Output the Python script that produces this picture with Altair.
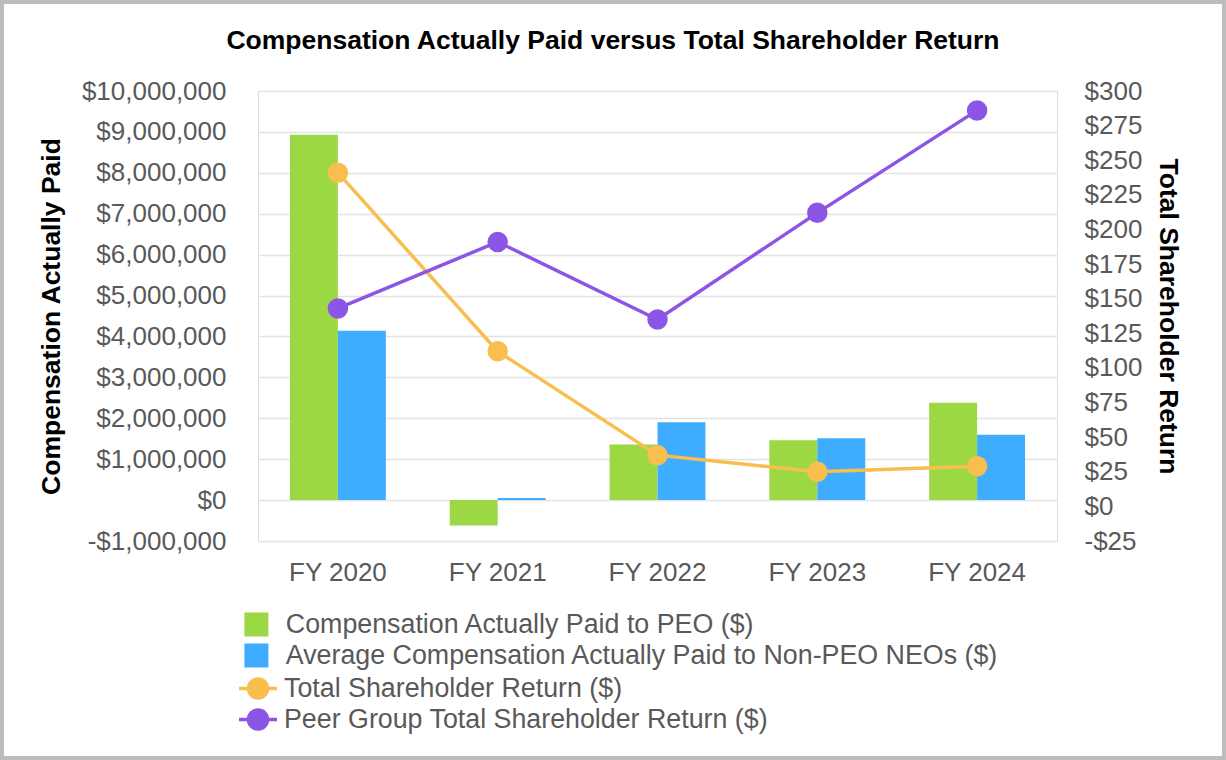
import altair as alt
import pandas as pd

# Fiscal years shown on the x axis
years = ["FY 2020", "FY 2021", "FY 2022", "FY 2023", "FY 2024"]

# Compensation actually paid (left axis, dollars)
peo_cap = [8930000, -620000, 1360000, 1460000, 2380000]
neo_cap = [4140000, 50000, 1900000, 1510000, 1600000]

# Value of a $100 investment (right axis, dollars)
tsr = [241, 112, 37, 25, 29]
peer_tsr = [143, 191, 135, 212, 286]

bar_names = [
    "Compensation Actually Paid to PEO ($)",
    "Average Compensation Actually Paid to Non-PEO NEOs ($)",
]
line_names = [
    "Total Shareholder Return ($)",
    "Peer Group Total Shareholder Return ($)",
]
bar_colors = ["#9CD843", "#3FADFF"]
line_colors = ["#F8BE4E", "#8B55E6"]

bars_df = pd.DataFrame(
    {
        "year": years * 2,
        "series": [bar_names[0]] * len(years) + [bar_names[1]] * len(years),
        "value": peo_cap + neo_cap,
    }
)
lines_df = pd.DataFrame(
    {
        "year": years * 2,
        "series": [line_names[0]] * len(years) + [line_names[1]] * len(years),
        "value": tsr + peer_tsr,
    }
)

FONT = "Liberation Sans"
GREY = "#595959"
LABEL_SIZE = 26
LEGEND_SIZE = 26.8
TITLE_SIZE = 26.5

x_enc = alt.X(
    "year:N",
    sort=years,
    scale=alt.Scale(paddingInner=0.4, paddingOuter=0.2),
    axis=alt.Axis(
        title=None,
        labelAngle=0,
        ticks=False,
        domain=False,
        labelPadding=18,
        labelFontSize=LABEL_SIZE,
        labelColor=GREY,
        labelFont=FONT,
    ),
)

dollar_expr = "datum.value < 0 ? '-$' + format(-datum.value, ',') : '$' + format(datum.value, ',')"

left_vals = [v * 1000000 for v in range(-1, 11)]
bars = (
    alt.Chart(bars_df)
    .mark_bar()
    .encode(
        x=x_enc,
        xOffset=alt.XOffset("series:N", sort=bar_names, scale=alt.Scale(paddingInner=0, paddingOuter=0)),
        y=alt.Y(
            "value:Q",
            scale=alt.Scale(domain=[-1000000, 10000000], nice=False),
            axis=alt.Axis(
                title="Compensation Actually Paid",
                values=left_vals,
                labelExpr=dollar_expr,
                ticks=False,
                domain=False,
                labelPadding=32,
                labelFontSize=LABEL_SIZE,
                labelColor=GREY,
                labelFont=FONT,
                titleFont=FONT,
                titleFontSize=TITLE_SIZE,
                titleFontWeight="bold",
                titleColor="#000000",
                titlePadding=16,
                grid=True,
                gridColor="#E3E3E3",
                gridWidth=1.5,
            ),
        ),
        fill=alt.Fill(
            "series:N",
            sort=bar_names,
            scale=alt.Scale(domain=bar_names, range=bar_colors),
            legend=alt.Legend(
                title=None,
                orient="none",
                legendX=-15,
                legendY=518,
                symbolType="square",
                symbolSize=576,
                symbolStrokeWidth=0,
                labelOffset=16,
                clipHeight=31,
                rowPadding=0,
                padding=0,
                labelFontSize=LEGEND_SIZE,
                labelColor=GREY,
                labelFont=FONT,
                labelLimit=900,
            ),
        ),
    )
)

right_vals = list(range(-25, 301, 25))
y_right = alt.Y(
    "value:Q",
    scale=alt.Scale(domain=[-25, 300], nice=False),
    axis=alt.Axis(
        title="Total Shareholder Return",
        orient="right",
        values=right_vals,
        labelExpr=dollar_expr,
        ticks=False,
        domain=False,
        grid=False,
        labelPadding=27,
        labelFontSize=LABEL_SIZE,
        labelColor=GREY,
        labelFont=FONT,
        titleFont=FONT,
        titleFontSize=TITLE_SIZE,
        titleFontWeight="bold",
        titleColor="#000000",
        titlePadding=12,
    ),
)

line_symbol = (
    "M-1,0L1,0"
    "M-0.5,0A0.5,0.5 0 1,0 0.5,0A0.5,0.5 0 1,0 -0.5,0Z"
)
color_enc = alt.Color(
    "series:N",
    sort=line_names,
    scale=alt.Scale(domain=line_names, range=line_colors),
    legend=alt.Legend(
        title=None,
        orient="none",
        legendX=-21,
        legendY=582,
        symbolType=line_symbol,
        symbolSize=1444,
        symbolStrokeWidth=3.5,
        symbolOpacity=1,
        labelOffset=5,
        clipHeight=31,
        rowPadding=0,
        padding=0,
        labelFontSize=LEGEND_SIZE,
        labelColor=GREY,
        labelFont=FONT,
        labelLimit=900,
    ),
)

lines = (
    alt.Chart(lines_df)
    .mark_line(strokeWidth=3.5)
    .encode(x=x_enc, y=y_right, color=color_enc)
)
points = (
    alt.Chart(lines_df)
    .mark_circle(size=420, opacity=1)
    .encode(x=x_enc, y=y_right, color=color_enc)
)

# Grey frame around the whole figure
frame = (
    alt.Chart(pd.DataFrame({"k": [0]}))
    .mark_rect(fill=None, stroke="#BDBDBD", strokeWidth=4)
    .encode(
        x=alt.value(-256),
        x2=alt.value(966),
        y=alt.value(-89),
        y2=alt.value(667),
    )
)

chart = (
    alt.layer(bars, alt.layer(lines, points), frame)
    .resolve_scale(y="independent")
    .properties(
        width=799,
        height=450,
        title=alt.TitleParams(
            "Compensation Actually Paid versus Total Shareholder Return",
            font=FONT,
            fontSize=TITLE_SIZE,
            fontWeight="bold",
            color="#000000",
            anchor="middle",
            frame="bounds",
            offset=-54,
        ),
        autosize=alt.AutoSizeParams(type="none"),
        padding={"left": 258, "top": 91, "right": 169, "bottom": 219},
    )
    .configure_view(stroke="#C4C4C4", strokeWidth=2)
    .configure(background="#FFFFFF")
)

chart.save("out.html", embed_options={"renderer": "svg", "actions": False})
